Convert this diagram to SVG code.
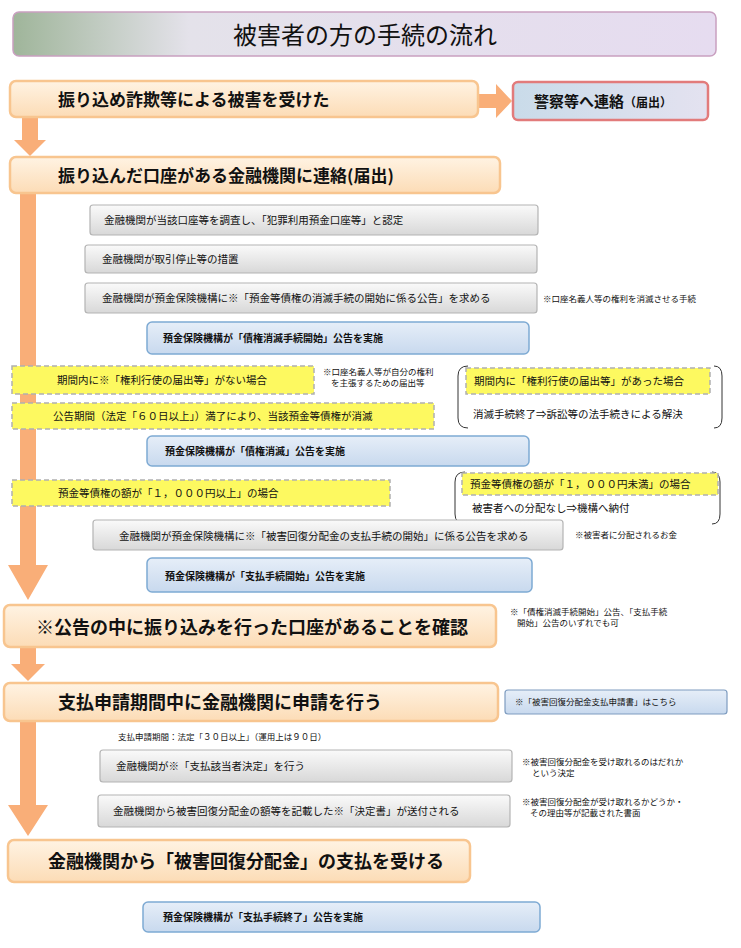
<svg xmlns="http://www.w3.org/2000/svg" width="741" height="948" viewBox="0 0 741 948">
<defs>
<linearGradient id="tg" x1="0" x2="1" y1="0" y2="0"><stop offset="0" stop-color="#9fb59a"/><stop offset="0.25" stop-color="#e4e2ea"/><stop offset="1" stop-color="#e6dcf0"/></linearGradient>
<linearGradient id="og" x1="0" x2="0" y1="0" y2="1"><stop offset="0" stop-color="#fff3e3"/><stop offset="1" stop-color="#fcdcb6"/></linearGradient>
<linearGradient id="gg" x1="0" x2="0" y1="0" y2="1"><stop offset="0" stop-color="#fafafa"/><stop offset="1" stop-color="#d8d8d8"/></linearGradient>
<linearGradient id="bg" x1="0" x2="0" y1="0" y2="1"><stop offset="0" stop-color="#e6eef8"/><stop offset="1" stop-color="#c8d9ee"/></linearGradient>
<linearGradient id="pg" x1="0" x2="1" y1="0" y2="0"><stop offset="0" stop-color="#c9dbe9"/><stop offset="1" stop-color="#e4e2f0"/></linearGradient>
</defs>
<style>
text{font-family:"Noto Sans CJK JP","Noto Sans CJK SC",sans-serif;fill:#111}
.ob{fill:url(#og);stroke:#f8c58f;stroke-width:2.5}
.gb{fill:url(#gg);stroke:#b4b4b4;stroke-width:1.2}
.bb{fill:url(#bg);stroke:#7eaad3;stroke-width:1.5}
.yb{fill:#fdf960;stroke:#b0b0b0;stroke-width:1.5;stroke-dasharray:5 3}
.br{fill:none;stroke:#333;stroke-width:1}
.big{font-size:17px;font-weight:bold}
.bigger{font-size:18px;font-weight:bold}
.s{font-size:10.5px}
.n{font-size:8.5px}
.bl{font-size:10px;font-weight:bold}
.arr{fill:#f9ae78}
</style>
<g id="title"><rect x="13" y="12" width="703" height="44" rx="6" fill="url(#tg)" stroke="#c9a0c0" stroke-width="1.5"/><text x="365" y="44" font-size="24" text-anchor="middle">被害者の方の手続の流れ</text></g>
<g id="connectors">
<path class="arr" d="M478 94 H496 V84 L512 101 L496 118 V108 H478 Z"/>
<path class="arr" d="M22 117 H38 V140 H46 L30 156 L14 140 H22 Z"/>
<path class="arr" d="M20 193 H36 V565 H48 L28 600 L8 565 H20 Z"/>
<path class="arr" d="M20 647 H36 V664 H45 L28 681 L11 664 H20 Z"/>
<path class="arr" d="M20 721 H36 V805 H48 L28 836 L8 805 H20 Z"/>
</g>
<g id="n1"><rect class="ob" x="10" y="81" width="468" height="36" rx="6"/><text class="big" x="58" y="106">振り込め詐欺等による被害を受けた</text></g>
<g id="n1b"><rect x="513" y="82" width="195" height="38" rx="5" fill="url(#pg)" stroke="#e27b7b" stroke-width="2.5"/><text x="534" y="107" font-size="15" font-weight="bold">警察等へ連絡<tspan font-size="12">（届出）</tspan></text></g>
<g id="n2"><rect class="ob" x="10" y="157" width="490" height="36" rx="6"/><text class="big" x="58" y="182">振り込んだ口座がある金融機関に連絡(届出)</text></g>
<g id="n3"><rect class="gb" x="90" y="205" width="448" height="30" rx="3"/><text class="s" x="104" y="224">金融機関が当該口座等を調査し、「犯罪利用預金口座等」と認定</text></g>
<g id="n4"><rect class="gb" x="85" y="245" width="452" height="28" rx="3"/><text class="s" x="102" y="263">金融機関が取引停止等の措置</text></g>
<g id="n5"><rect class="gb" x="85" y="283" width="452" height="30" rx="3"/><text class="s" x="102" y="302">金融機関が預金保険機構に※「預金等債権の消滅手続の開始に係る公告」を求める</text><text class="n" x="543" y="302">※口座名義人等の権利を消滅させる手続</text></g>
<g id="n6"><rect class="bb" x="147" y="322" width="382" height="32" rx="5"/><text class="bl" x="163" y="342">預金保険機構が「債権消滅手続開始」公告を実施</text></g>
<g id="n7"><rect class="yb" x="12" y="366" width="302" height="28"/><text class="s" x="57" y="384">期間内に※「権利行使の届出等」がない場合</text><text class="n" x="323" y="375">※口座名義人等が自分の権利</text><text class="n" x="331" y="386">を主張するための届出等</text></g>
<g id="n8"><rect class="yb" x="12" y="403" width="422" height="26"/><text class="s" x="53" y="420">公告期間（法定「６０日以上」）満了により、当該預金等債権が消滅</text></g>
<g id="n9"><path class="br" d="M468 366 Q458 366 458 376 V418 Q458 428 468 428 M714 366 Q722 366 722 376 V418 Q722 428 714 428"/><rect class="yb" x="466" y="368" width="244" height="26"/><text class="s" x="474" y="385">期間内に「権利行使の届出等」があった場合</text><text class="s" x="473" y="418">消滅手続終了⇒訴訟等の法手続きによる解決</text></g>
<g id="n10"><rect class="bb" x="147" y="436" width="382" height="30" rx="5"/><text class="bl" x="165" y="455">預金保険機構が「債権消滅」公告を実施</text></g>
<g id="n11"><rect class="yb" x="12" y="480" width="378" height="26"/><text class="s" x="58" y="497">預金等債権の額が「１，０００円以上」の場合</text></g>
<g id="n12"><path class="br" d="M465 472 Q455 472 455 482 V514 Q455 524 465 524 M712 472 Q720 472 720 482 V514 Q720 524 712 524"/><rect class="yb" x="462" y="473" width="256" height="22"/><text class="s" x="470" y="488">預金等債権の額が「１，０００円未満」の場合</text><text class="s" x="472" y="512">被害者への分配なし⇒機構へ納付</text></g>
<g id="n13"><rect class="gb" x="93" y="520" width="470" height="30" rx="3"/><text class="s" x="119" y="540">金融機関が預金保険機構に※「被害回復分配金の支払手続の開始」に係る公告を求める</text><text class="n" x="575" y="538">※被害者に分配されるお金</text></g>
<g id="n14"><rect class="bb" x="147" y="558" width="385" height="34" rx="5"/><text class="bl" x="165" y="580">預金保険機構が「支払手続開始」公告を実施</text></g>
<g id="n15"><rect class="ob" x="4" y="605" width="492" height="42" rx="6"/><text class="bigger" x="36" y="634">※公告の中に振り込みを行った口座があることを確認</text><text class="n" x="510" y="615">※「債権消滅手続開始」公告、「支払手続</text><text class="n" x="517" y="626">開始」公告のいずれでも可</text></g>
<g id="n16"><rect class="ob" x="4" y="683" width="494" height="38" rx="6"/><text class="bigger" x="58" y="709">支払申請期間中に金融機関に申請を行う</text><rect x="505" y="690" width="222" height="24" rx="3" fill="url(#bg)" stroke="#7e9cc0" stroke-width="1.2"/><text class="n" x="515" y="705">※「被害回復分配金支払申請書」はこちら</text></g>
<g id="n17"><text class="n" x="118" y="740">支払申請期間：法定「３０日以上」（運用上は９０日）</text></g>
<g id="n18"><rect class="gb" x="100" y="750" width="412" height="32" rx="3"/><text class="s" x="116" y="770">金融機関が※「支払該当者決定」を行う</text><text class="n" x="522" y="765">※被害回復分配金を受け取れるのはだれか</text><text class="n" x="532" y="776">という決定</text></g>
<g id="n19"><rect class="gb" x="98" y="795" width="412" height="32" rx="3"/><text class="s" x="113" y="815">金融機関から被害回復分配金の額等を記載した※「決定書」が送付される</text><text class="n" x="522" y="805">※被害回復分配金が受け取れるかどうか・</text><text class="n" x="530" y="816">その理由等が記載された書面</text></g>
<g id="n20"><rect class="ob" x="8" y="840" width="462" height="42" rx="6"/><text class="bigger" x="48" y="868">金融機関から「被害回復分配金」の支払を受ける</text></g>
<g id="n21"><rect class="bb" x="143" y="902" width="397" height="30" rx="5"/><text class="bl" x="163" y="921">預金保険機構が「支払手続終了」公告を実施</text></g>
</svg>
